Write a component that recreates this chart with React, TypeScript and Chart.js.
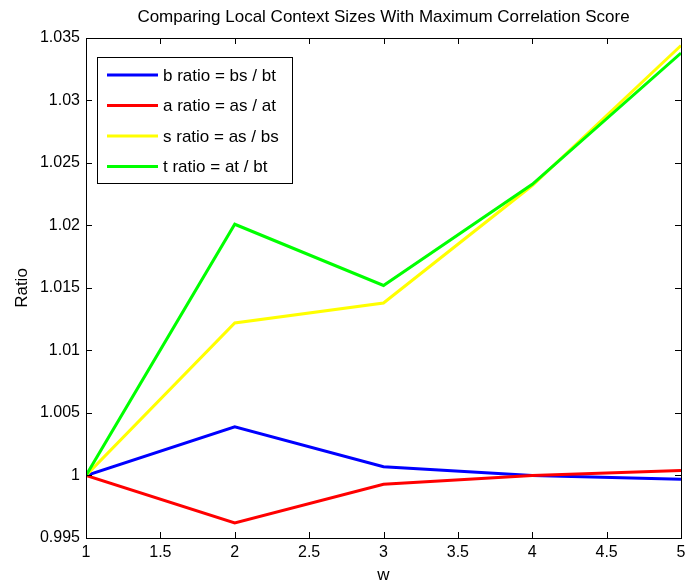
import React, { useEffect, useRef } from 'react';
import { Chart, registerables } from 'chart.js';

Chart.register(...registerables);

const wValues = [1, 2, 3, 4, 5];
const bRatio = [1.0, 1.0039, 1.0007, 1.0, 0.9997];
const aRatio = [1.0, 0.9962, 0.9993, 1.0, 1.0004];
const sRatio = [1.0, 1.0122, 1.0138, 1.0232, 1.0344];
const tRatio = [1.0, 1.0201, 1.0152, 1.0233, 1.0338];

const seriesLabels = ['b ratio = bs / bt', 'a ratio = as / at', 's ratio = as / bs', 't ratio = at / bt'];
const seriesColors = ['#0000ff', '#ff0000', '#ffff00', '#00ff00'];
const seriesValues = [bRatio, aRatio, sRatio, tRatio];

const xTicks = [1, 1.5, 2, 2.5, 3, 3.5, 4, 4.5, 5];
const yTicks = [0.995, 1, 1.005, 1.01, 1.015, 1.02, 1.025, 1.03, 1.035];

const titleText = 'Comparing Local Context Sizes With Maximum Correlation Score';
const xTitle = 'w';
const yTitle = 'Ratio';

const FONT = '"Liberation Sans", Arial, Helvetica, sans-serif';

const decorPlugin = {
  id: 'decor',
  afterDatasetsDraw(chart: any) {
    const ctx = chart.ctx;
    const { left, right, top, bottom } = chart.chartArea;
    const xs = chart.scales.x;
    const ys = chart.scales.y;
    ctx.save();
    ctx.strokeStyle = '#000';
    ctx.lineWidth = 1;
    ctx.strokeRect(Math.round(left) + 0.5, Math.round(top) + 0.5, Math.round(right - left), Math.round(bottom - top));
    const tl = 6;
    ctx.beginPath();
    xTicks.forEach((v) => {
      const px = Math.round(xs.getPixelForValue(v)) + 0.5;
      ctx.moveTo(px, bottom);
      ctx.lineTo(px, bottom - tl);
      ctx.moveTo(px, top);
      ctx.lineTo(px, top + tl);
    });
    yTicks.forEach((v) => {
      const py = Math.round(ys.getPixelForValue(v)) + 0.5;
      ctx.moveTo(left, py);
      ctx.lineTo(left + tl, py);
      ctx.moveTo(right, py);
      ctx.lineTo(right - tl, py);
    });
    ctx.stroke();

    const bx = 97, by = 57, bw = 195, bh = 126;
    ctx.fillStyle = '#fff';
    ctx.fillRect(bx, by, bw, bh);
    ctx.strokeStyle = '#000';
    ctx.strokeRect(bx + 0.5, by + 0.5, bw, bh);
    ctx.font = `17px ${FONT}`;
    ctx.textBaseline = 'middle';
    ctx.textAlign = 'left';
    chart.data.datasets.forEach((ds: any, i: number) => {
      const ry = 75 + i * 30.5;
      ctx.strokeStyle = ds.borderColor;
      ctx.lineWidth = 3;
      ctx.beginPath();
      ctx.moveTo(107, ry);
      ctx.lineTo(158, ry);
      ctx.stroke();
      ctx.fillStyle = '#000';
      ctx.fillText(ds.label, 163, ry + 1);
    });

    const cx = (left + right) / 2;
    ctx.fillStyle = '#000';
    ctx.textAlign = 'center';
    ctx.font = `17px ${FONT}`;
    ctx.fillText(titleText, cx, 17);
    ctx.fillText(xTitle, cx, 575);
    ctx.translate(22, (top + bottom) / 2);
    ctx.rotate(-Math.PI / 2);
    ctx.fillText(yTitle, 0, 0);
    ctx.restore();
  },
};

export default function App() {
  const canvasRef = useRef<HTMLCanvasElement | null>(null);

  useEffect(() => {
    document.body.style.margin = '0';
    const canvas = canvasRef.current;
    if (!canvas) return;
    const order = [3, 2, 1, 0];
    const chart = new Chart(canvas, {
      type: 'line',
      data: {
        datasets: seriesValues.map((vals, i) => ({
          label: seriesLabels[i],
          data: vals.map((y, j) => ({ x: wValues[j], y })),
          borderColor: seriesColors[i],
          backgroundColor: seriesColors[i],
          borderWidth: 3,
          pointRadius: 0,
          tension: 0,
          fill: false,
          order: order[i],
        })),
      },
      options: {
        animation: false,
        responsive: true,
        maintainAspectRatio: false,
        layout: { padding: { top: 38, right: 4, left: 0, bottom: 0 } },
        plugins: {
          legend: { display: false },
          title: { display: false },
          tooltip: { enabled: false },
        },
        scales: {
          x: {
            type: 'linear',
            min: 1,
            max: 5,
            grid: { display: false, drawTicks: false },
            border: { display: false },
            afterBuildTicks: (scale: any) => {
              scale.ticks = xTicks.map((v) => ({ value: v }));
            },
            afterFit: (scale: any) => {
              scale.height = 46;
              scale.paddingLeft = 0;
              scale.paddingRight = 0;
            },
            ticks: {
              color: '#000',
              padding: 5,
              maxRotation: 0,
              autoSkip: false,
              font: { family: FONT, size: 16 },
              callback: (v: any) => String(Number(Number(v).toFixed(3))),
            },
          },
          y: {
            type: 'linear',
            min: 0.995,
            max: 1.035,
            grid: { display: false, drawTicks: false },
            border: { display: false },
            afterBuildTicks: (scale: any) => {
              scale.ticks = yTicks.map((v) => ({ value: v }));
            },
            afterFit: (scale: any) => {
              scale.width = 86;
              scale.paddingTop = 0;
              scale.paddingBottom = 0;
            },
            ticks: {
              color: '#000',
              padding: 6,
              autoSkip: false,
              font: { family: FONT, size: 16 },
              callback: (v: any) => String(Number(Number(v).toFixed(3))),
            },
          },
        },
      },
      plugins: [decorPlugin],
    });
    return () => chart.destroy();
  }, []);

  return (
    <div style={{ width: 685, height: 584, position: 'relative', background: '#fff' }}>
      <canvas ref={canvasRef} />
    </div>
  );
}
